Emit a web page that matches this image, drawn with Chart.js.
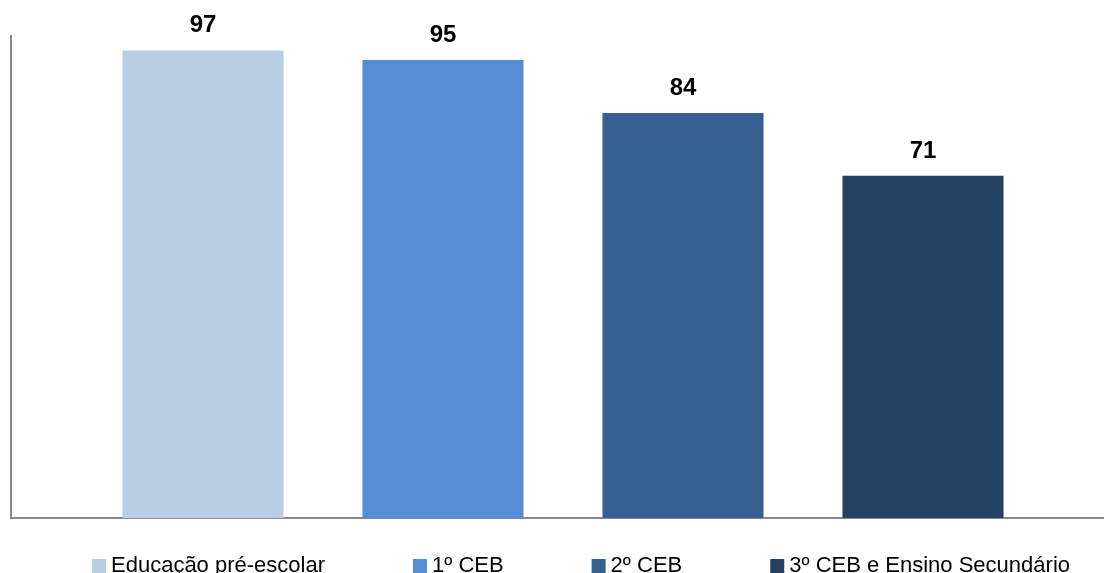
<!DOCTYPE html>
<html>
<head>
<meta charset="utf-8">
<script src="https://cdn.jsdelivr.net/npm/chart.js@4"></script>
<style>
  html, body { margin: 0; padding: 0; background: #fff; overflow: hidden; }
  #wrap { width: 1104px; height: 573px; overflow: hidden; }
</style>
</head>
<body>
<div id="wrap"><canvas id="chart" width="1115" height="573"></canvas></div>
<script>
// data
const seriesNames = ['Educação pré-escolar', '1º CEB', '2º CEB', '3º CEB e Ensino Secundário'];
const seriesValues = [97, 95, 84, 71];
const seriesColors = ['#B9CDE5', '#558ED5', '#376092', '#254061'];
const categories = [''];

// value labels above bars
const barLabels = {
  id: 'barLabels',
  afterDatasetsDraw(chart) {
    const ctx = chart.ctx;
    ctx.save();
    ctx.font = 'bold 24px "Liberation Sans", Arial, sans-serif';
    ctx.fillStyle = '#000';
    ctx.textAlign = 'center';
    ctx.textBaseline = 'alphabetic';
    chart.data.datasets.forEach((ds, i) => {
      const bar = chart.getDatasetMeta(i).data[0];
      ctx.fillText(ds.data[0], bar.x, bar.y - 18);
    });
    ctx.restore();
  }
};

// legend laid out like the excel one (wide gaps, sits on the bottom edge)
const bottomLegend = {
  id: 'bottomLegend',
  afterDraw(chart) {
    const ctx = chart.ctx;
    const box = 14, textGap = 5, gap = 88, startX = 92;
    ctx.save();
    ctx.font = '22px "Liberation Sans", Arial, sans-serif';
    ctx.textBaseline = 'alphabetic';
    let x = startX;
    chart.data.datasets.forEach(ds => {
      const w = ctx.measureText(ds.label).width;
      ctx.fillStyle = ds.backgroundColor;
      ctx.fillRect(x, 559, box, box);
      ctx.fillStyle = '#000';
      ctx.fillText(ds.label, x + box + textGap, 572);
      x += box + textGap + w + gap;
    });
    ctx.restore();
  }
};

const datasets = seriesNames.map((name, i) => ({
  label: name,
  data: [seriesValues[i]],
  backgroundColor: seriesColors[i],
  borderWidth: 0,
  categoryPercentage: 0.8696,
  barPercentage: 0.671
}));

new Chart(document.getElementById('chart'), {
  type: 'bar',
  data: { labels: categories, datasets: datasets },
  options: {
    responsive: false,
    animation: false,
    layout: { padding: { left: 11, right: 0, top: 36, bottom: 55 } },
    plugins: {
      legend: { display: false },
      tooltip: { enabled: false }
    },
    scales: {
      x: {
        grid: { display: false, drawTicks: false },
        ticks: { display: false },
        border: { display: true, color: '#898989', width: 2 }
      },
      y: {
        min: 0,
        max: 100,
        grid: { display: false, drawTicks: false },
        ticks: { display: false },
        border: { display: true, color: '#898989', width: 2 }
      }
    }
  },
  plugins: [barLabels, bottomLegend]
});
</script>
</body>
</html>
